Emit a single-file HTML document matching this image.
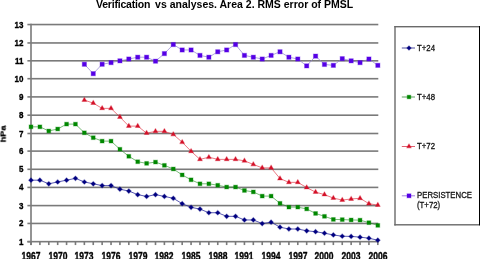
<!DOCTYPE html>
<html><head><meta charset="utf-8"><style>
html,body{margin:0;padding:0;background:#fff;}
.t{will-change:transform;}
body{width:480px;height:259px;overflow:hidden;position:relative;font-family:"Liberation Sans",sans-serif;}
svg{position:absolute;left:0;top:0;}
.bl{position:absolute;left:0;top:0;width:480px;height:259px;}
.title{position:absolute;font-weight:bold;font-size:10.5px;line-height:12px;white-space:nowrap;color:#000;will-change:transform;}
.yl{position:absolute;left:0;width:23.5px;text-align:right;font-weight:bold;font-size:8px;line-height:10px;color:#000;-webkit-text-stroke:0.3px #000;transform:scaleY(1.2);will-change:transform;}
.xl{position:absolute;top:251.3px;width:30px;text-align:center;font-weight:bold;font-size:8.5px;line-height:10px;color:#000;-webkit-text-stroke:0.3px #000;transform:scaleY(1.24);will-change:transform;}
.hpa{position:absolute;left:-7.8px;top:129.3px;width:22px;text-align:center;font-weight:bold;font-size:8.3px;line-height:10px;transform:rotate(-90deg) scale(1.1,0.88);color:#000;-webkit-text-stroke:0.3px #000;}
.lg{position:absolute;left:416.9px;font-size:7.8px;line-height:7.7px;white-space:nowrap;color:#111;-webkit-text-stroke:0.25px #111;transform:scaleY(1.22);transform-origin:0 4px;will-change:transform;}
</style></head><body>
<div class="bl"><svg width="480" height="259" viewBox="0 0 480 259">
<rect x="31.0" y="222.65" width="347.3" height="1.6" fill="#7a7a7a"/>
<rect x="31.0" y="204.80" width="347.3" height="1.6" fill="#7a7a7a"/>
<rect x="31.0" y="186.60" width="347.3" height="1.6" fill="#7a7a7a"/>
<rect x="31.0" y="168.50" width="347.3" height="1.6" fill="#7a7a7a"/>
<rect x="31.0" y="150.30" width="347.3" height="1.6" fill="#7a7a7a"/>
<rect x="31.0" y="132.70" width="347.3" height="1.6" fill="#7a7a7a"/>
<rect x="31.0" y="114.40" width="347.3" height="1.6" fill="#7a7a7a"/>
<rect x="31.0" y="96.10" width="347.3" height="1.6" fill="#7a7a7a"/>
<rect x="31.0" y="77.90" width="347.3" height="1.6" fill="#7a7a7a"/>
<rect x="31.0" y="60.00" width="347.3" height="1.6" fill="#7a7a7a"/>
<rect x="31.0" y="42.15" width="347.3" height="1.6" fill="#7a7a7a"/>
<rect x="31.0" y="23.75" width="347.3" height="1.6" fill="#7a7a7a"/>
<rect x="27.4" y="240.86" width="3.60" height="1.6" fill="#7a7a7a"/>
<rect x="27.4" y="222.65" width="3.60" height="1.6" fill="#7a7a7a"/>
<rect x="27.4" y="204.80" width="3.60" height="1.6" fill="#7a7a7a"/>
<rect x="27.4" y="186.60" width="3.60" height="1.6" fill="#7a7a7a"/>
<rect x="27.4" y="168.50" width="3.60" height="1.6" fill="#7a7a7a"/>
<rect x="27.4" y="150.30" width="3.60" height="1.6" fill="#7a7a7a"/>
<rect x="27.4" y="132.70" width="3.60" height="1.6" fill="#7a7a7a"/>
<rect x="27.4" y="114.40" width="3.60" height="1.6" fill="#7a7a7a"/>
<rect x="27.4" y="96.10" width="3.60" height="1.6" fill="#7a7a7a"/>
<rect x="27.4" y="77.90" width="3.60" height="1.6" fill="#7a7a7a"/>
<rect x="27.4" y="60.00" width="3.60" height="1.6" fill="#7a7a7a"/>
<rect x="27.4" y="42.15" width="3.60" height="1.6" fill="#7a7a7a"/>
<rect x="27.4" y="23.75" width="3.60" height="1.6" fill="#7a7a7a"/>
<rect x="27.4" y="240.86" width="350.9" height="1.6" fill="#7a7a7a"/>
<rect x="30.20" y="241.66" width="1.6" height="3.4" fill="#7a7a7a"/>
<rect x="39.09" y="241.66" width="1.6" height="3.4" fill="#7a7a7a"/>
<rect x="47.99" y="241.66" width="1.6" height="3.4" fill="#7a7a7a"/>
<rect x="56.88" y="241.66" width="1.6" height="3.4" fill="#7a7a7a"/>
<rect x="65.77" y="241.66" width="1.6" height="3.4" fill="#7a7a7a"/>
<rect x="74.67" y="241.66" width="1.6" height="3.4" fill="#7a7a7a"/>
<rect x="83.56" y="241.66" width="1.6" height="3.4" fill="#7a7a7a"/>
<rect x="92.45" y="241.66" width="1.6" height="3.4" fill="#7a7a7a"/>
<rect x="101.34" y="241.66" width="1.6" height="3.4" fill="#7a7a7a"/>
<rect x="110.24" y="241.66" width="1.6" height="3.4" fill="#7a7a7a"/>
<rect x="119.13" y="241.66" width="1.6" height="3.4" fill="#7a7a7a"/>
<rect x="128.02" y="241.66" width="1.6" height="3.4" fill="#7a7a7a"/>
<rect x="136.92" y="241.66" width="1.6" height="3.4" fill="#7a7a7a"/>
<rect x="145.81" y="241.66" width="1.6" height="3.4" fill="#7a7a7a"/>
<rect x="154.70" y="241.66" width="1.6" height="3.4" fill="#7a7a7a"/>
<rect x="163.59" y="241.66" width="1.6" height="3.4" fill="#7a7a7a"/>
<rect x="172.49" y="241.66" width="1.6" height="3.4" fill="#7a7a7a"/>
<rect x="181.38" y="241.66" width="1.6" height="3.4" fill="#7a7a7a"/>
<rect x="190.27" y="241.66" width="1.6" height="3.4" fill="#7a7a7a"/>
<rect x="199.17" y="241.66" width="1.6" height="3.4" fill="#7a7a7a"/>
<rect x="208.06" y="241.66" width="1.6" height="3.4" fill="#7a7a7a"/>
<rect x="216.95" y="241.66" width="1.6" height="3.4" fill="#7a7a7a"/>
<rect x="225.85" y="241.66" width="1.6" height="3.4" fill="#7a7a7a"/>
<rect x="234.74" y="241.66" width="1.6" height="3.4" fill="#7a7a7a"/>
<rect x="243.63" y="241.66" width="1.6" height="3.4" fill="#7a7a7a"/>
<rect x="252.53" y="241.66" width="1.6" height="3.4" fill="#7a7a7a"/>
<rect x="261.42" y="241.66" width="1.6" height="3.4" fill="#7a7a7a"/>
<rect x="270.31" y="241.66" width="1.6" height="3.4" fill="#7a7a7a"/>
<rect x="279.20" y="241.66" width="1.6" height="3.4" fill="#7a7a7a"/>
<rect x="288.10" y="241.66" width="1.6" height="3.4" fill="#7a7a7a"/>
<rect x="296.99" y="241.66" width="1.6" height="3.4" fill="#7a7a7a"/>
<rect x="305.88" y="241.66" width="1.6" height="3.4" fill="#7a7a7a"/>
<rect x="314.78" y="241.66" width="1.6" height="3.4" fill="#7a7a7a"/>
<rect x="323.67" y="241.66" width="1.6" height="3.4" fill="#7a7a7a"/>
<rect x="332.56" y="241.66" width="1.6" height="3.4" fill="#7a7a7a"/>
<rect x="341.45" y="241.66" width="1.6" height="3.4" fill="#7a7a7a"/>
<rect x="350.35" y="241.66" width="1.6" height="3.4" fill="#7a7a7a"/>
<rect x="359.24" y="241.66" width="1.6" height="3.4" fill="#7a7a7a"/>
<rect x="368.13" y="241.66" width="1.6" height="3.4" fill="#7a7a7a"/>
<rect x="377.03" y="241.66" width="1.6" height="3.4" fill="#7a7a7a"/>
<rect x="30.20" y="23.75" width="1.6" height="221.31" fill="#7a7a7a"/>
<polyline points="84.36,64.26 93.25,73.67 102.14,64.26 111.04,62.63 119.93,60.83 128.82,59.02 137.72,57.21 146.61,57.21 155.50,61.19 164.40,53.59 173.29,44.55 182.18,49.98 191.07,49.98 199.97,55.40 208.86,57.21 217.75,51.78 226.65,49.98 235.54,44.55 244.43,55.40 253.33,57.21 262.22,59.02 271.11,55.40 280.00,51.78 288.90,57.21 297.79,59.02 306.68,65.89 315.58,56.12 324.47,64.44 333.36,65.35 342.25,58.66 351.15,60.83 360.04,62.63 368.93,59.02 377.83,65.35" fill="none" stroke="#9080d0" stroke-width="1" stroke-opacity="0.7" stroke-linejoin="round"/>
<polyline points="84.36,100.07 93.25,103.14 102.14,108.39 111.04,108.39 119.93,117.07 128.82,126.11 137.72,126.11 146.61,133.16 155.50,131.35 164.40,131.35 173.29,134.43 182.18,142.20 191.07,151.24 199.97,159.38 208.86,157.21 217.75,159.38 226.65,159.38 235.54,159.38 244.43,160.83 253.33,164.44 262.22,167.88 271.11,167.88 280.00,178.55 288.90,182.35 297.79,182.35 306.68,187.59 315.58,192.11 324.47,194.64 333.36,198.08 342.25,200.07 351.15,198.98 360.04,198.26 368.93,203.68 377.83,205.13" fill="none" stroke="#e02030" stroke-width="1" stroke-opacity="0.6" stroke-linejoin="round"/>
<polyline points="31.00,126.83 39.89,126.83 48.79,130.99 57.68,129.00 66.57,124.12 75.47,124.12 84.36,132.80 93.25,137.68 102.14,141.12 111.04,141.12 119.93,149.25 128.82,156.31 137.72,161.73 146.61,163.36 155.50,162.09 164.40,165.35 173.29,168.96 182.18,174.93 191.07,179.81 199.97,183.79 208.86,183.79 217.75,185.24 226.65,187.05 235.54,187.05 244.43,190.48 253.33,191.93 262.22,196.09 271.11,196.09 280.00,203.32 288.90,207.12 297.79,207.12 306.68,208.93 315.58,213.45 324.47,216.34 333.36,219.42 342.25,219.60 351.15,219.96 360.04,220.14 368.93,222.67 377.83,225.38" fill="none" stroke="#209020" stroke-width="1" stroke-opacity="0.6" stroke-linejoin="round"/>
<polyline points="31.00,180.18 39.89,180.18 48.79,183.79 57.68,181.98 66.57,180.18 75.47,178.37 84.36,181.98 93.25,183.79 102.14,185.60 111.04,185.60 119.93,189.22 128.82,191.03 137.72,194.64 146.61,196.45 155.50,194.64 164.40,196.45 173.29,198.26 182.18,203.68 191.07,207.30 199.97,209.11 208.86,212.73 217.75,212.73 226.65,216.34 235.54,216.34 244.43,219.96 253.33,219.96 262.22,223.58 271.11,222.13 280.00,227.19 288.90,229.00 297.79,229.00 306.68,230.81 315.58,231.71 324.47,233.16 333.36,234.97 342.25,236.23 351.15,236.42 360.04,237.14 368.93,238.22 377.83,240.21" fill="none" stroke="#3030a0" stroke-width="1" stroke-opacity="0.8" stroke-linejoin="round"/>
<rect x="82.26" y="62.16" width="4.2" height="4.2" fill="#5500e6" stroke="#5500e6" stroke-opacity="0.3" stroke-width="1.1"/>
<rect x="91.15" y="71.57" width="4.2" height="4.2" fill="#5500e6" stroke="#5500e6" stroke-opacity="0.3" stroke-width="1.1"/>
<rect x="100.04" y="62.16" width="4.2" height="4.2" fill="#5500e6" stroke="#5500e6" stroke-opacity="0.3" stroke-width="1.1"/>
<rect x="108.94" y="60.53" width="4.2" height="4.2" fill="#5500e6" stroke="#5500e6" stroke-opacity="0.3" stroke-width="1.1"/>
<rect x="117.83" y="58.73" width="4.2" height="4.2" fill="#5500e6" stroke="#5500e6" stroke-opacity="0.3" stroke-width="1.1"/>
<rect x="126.72" y="56.92" width="4.2" height="4.2" fill="#5500e6" stroke="#5500e6" stroke-opacity="0.3" stroke-width="1.1"/>
<rect x="135.62" y="55.11" width="4.2" height="4.2" fill="#5500e6" stroke="#5500e6" stroke-opacity="0.3" stroke-width="1.1"/>
<rect x="144.51" y="55.11" width="4.2" height="4.2" fill="#5500e6" stroke="#5500e6" stroke-opacity="0.3" stroke-width="1.1"/>
<rect x="153.40" y="59.09" width="4.2" height="4.2" fill="#5500e6" stroke="#5500e6" stroke-opacity="0.3" stroke-width="1.1"/>
<rect x="162.30" y="51.49" width="4.2" height="4.2" fill="#5500e6" stroke="#5500e6" stroke-opacity="0.3" stroke-width="1.1"/>
<rect x="171.19" y="42.45" width="4.2" height="4.2" fill="#5500e6" stroke="#5500e6" stroke-opacity="0.3" stroke-width="1.1"/>
<rect x="180.08" y="47.88" width="4.2" height="4.2" fill="#5500e6" stroke="#5500e6" stroke-opacity="0.3" stroke-width="1.1"/>
<rect x="188.97" y="47.88" width="4.2" height="4.2" fill="#5500e6" stroke="#5500e6" stroke-opacity="0.3" stroke-width="1.1"/>
<rect x="197.87" y="53.30" width="4.2" height="4.2" fill="#5500e6" stroke="#5500e6" stroke-opacity="0.3" stroke-width="1.1"/>
<rect x="206.76" y="55.11" width="4.2" height="4.2" fill="#5500e6" stroke="#5500e6" stroke-opacity="0.3" stroke-width="1.1"/>
<rect x="215.65" y="49.68" width="4.2" height="4.2" fill="#5500e6" stroke="#5500e6" stroke-opacity="0.3" stroke-width="1.1"/>
<rect x="224.55" y="47.88" width="4.2" height="4.2" fill="#5500e6" stroke="#5500e6" stroke-opacity="0.3" stroke-width="1.1"/>
<rect x="233.44" y="42.45" width="4.2" height="4.2" fill="#5500e6" stroke="#5500e6" stroke-opacity="0.3" stroke-width="1.1"/>
<rect x="242.33" y="53.30" width="4.2" height="4.2" fill="#5500e6" stroke="#5500e6" stroke-opacity="0.3" stroke-width="1.1"/>
<rect x="251.23" y="55.11" width="4.2" height="4.2" fill="#5500e6" stroke="#5500e6" stroke-opacity="0.3" stroke-width="1.1"/>
<rect x="260.12" y="56.92" width="4.2" height="4.2" fill="#5500e6" stroke="#5500e6" stroke-opacity="0.3" stroke-width="1.1"/>
<rect x="269.01" y="53.30" width="4.2" height="4.2" fill="#5500e6" stroke="#5500e6" stroke-opacity="0.3" stroke-width="1.1"/>
<rect x="277.90" y="49.68" width="4.2" height="4.2" fill="#5500e6" stroke="#5500e6" stroke-opacity="0.3" stroke-width="1.1"/>
<rect x="286.80" y="55.11" width="4.2" height="4.2" fill="#5500e6" stroke="#5500e6" stroke-opacity="0.3" stroke-width="1.1"/>
<rect x="295.69" y="56.92" width="4.2" height="4.2" fill="#5500e6" stroke="#5500e6" stroke-opacity="0.3" stroke-width="1.1"/>
<rect x="304.58" y="63.79" width="4.2" height="4.2" fill="#5500e6" stroke="#5500e6" stroke-opacity="0.3" stroke-width="1.1"/>
<rect x="313.48" y="54.02" width="4.2" height="4.2" fill="#5500e6" stroke="#5500e6" stroke-opacity="0.3" stroke-width="1.1"/>
<rect x="322.37" y="62.34" width="4.2" height="4.2" fill="#5500e6" stroke="#5500e6" stroke-opacity="0.3" stroke-width="1.1"/>
<rect x="331.26" y="63.25" width="4.2" height="4.2" fill="#5500e6" stroke="#5500e6" stroke-opacity="0.3" stroke-width="1.1"/>
<rect x="340.15" y="56.56" width="4.2" height="4.2" fill="#5500e6" stroke="#5500e6" stroke-opacity="0.3" stroke-width="1.1"/>
<rect x="349.05" y="58.73" width="4.2" height="4.2" fill="#5500e6" stroke="#5500e6" stroke-opacity="0.3" stroke-width="1.1"/>
<rect x="357.94" y="60.53" width="4.2" height="4.2" fill="#5500e6" stroke="#5500e6" stroke-opacity="0.3" stroke-width="1.1"/>
<rect x="366.83" y="56.92" width="4.2" height="4.2" fill="#5500e6" stroke="#5500e6" stroke-opacity="0.3" stroke-width="1.1"/>
<rect x="375.73" y="63.25" width="4.2" height="4.2" fill="#5500e6" stroke="#5500e6" stroke-opacity="0.3" stroke-width="1.1"/>
<polygon points="84.36,97.27 86.76,101.47 81.96,101.47" fill="#d41028" stroke="#d41028" stroke-opacity="0.3" stroke-width="1.1" stroke-linejoin="round"/>
<polygon points="93.25,100.34 95.65,104.54 90.85,104.54" fill="#d41028" stroke="#d41028" stroke-opacity="0.3" stroke-width="1.1" stroke-linejoin="round"/>
<polygon points="102.14,105.59 104.54,109.79 99.74,109.79" fill="#d41028" stroke="#d41028" stroke-opacity="0.3" stroke-width="1.1" stroke-linejoin="round"/>
<polygon points="111.04,105.59 113.44,109.79 108.64,109.79" fill="#d41028" stroke="#d41028" stroke-opacity="0.3" stroke-width="1.1" stroke-linejoin="round"/>
<polygon points="119.93,114.27 122.33,118.47 117.53,118.47" fill="#d41028" stroke="#d41028" stroke-opacity="0.3" stroke-width="1.1" stroke-linejoin="round"/>
<polygon points="128.82,123.31 131.22,127.51 126.42,127.51" fill="#d41028" stroke="#d41028" stroke-opacity="0.3" stroke-width="1.1" stroke-linejoin="round"/>
<polygon points="137.72,123.31 140.12,127.51 135.32,127.51" fill="#d41028" stroke="#d41028" stroke-opacity="0.3" stroke-width="1.1" stroke-linejoin="round"/>
<polygon points="146.61,130.36 149.01,134.56 144.21,134.56" fill="#d41028" stroke="#d41028" stroke-opacity="0.3" stroke-width="1.1" stroke-linejoin="round"/>
<polygon points="155.50,128.55 157.90,132.75 153.10,132.75" fill="#d41028" stroke="#d41028" stroke-opacity="0.3" stroke-width="1.1" stroke-linejoin="round"/>
<polygon points="164.40,128.55 166.80,132.75 162.00,132.75" fill="#d41028" stroke="#d41028" stroke-opacity="0.3" stroke-width="1.1" stroke-linejoin="round"/>
<polygon points="173.29,131.63 175.69,135.83 170.89,135.83" fill="#d41028" stroke="#d41028" stroke-opacity="0.3" stroke-width="1.1" stroke-linejoin="round"/>
<polygon points="182.18,139.40 184.58,143.60 179.78,143.60" fill="#d41028" stroke="#d41028" stroke-opacity="0.3" stroke-width="1.1" stroke-linejoin="round"/>
<polygon points="191.07,148.44 193.47,152.64 188.67,152.64" fill="#d41028" stroke="#d41028" stroke-opacity="0.3" stroke-width="1.1" stroke-linejoin="round"/>
<polygon points="199.97,156.58 202.37,160.78 197.57,160.78" fill="#d41028" stroke="#d41028" stroke-opacity="0.3" stroke-width="1.1" stroke-linejoin="round"/>
<polygon points="208.86,154.41 211.26,158.61 206.46,158.61" fill="#d41028" stroke="#d41028" stroke-opacity="0.3" stroke-width="1.1" stroke-linejoin="round"/>
<polygon points="217.75,156.58 220.15,160.78 215.35,160.78" fill="#d41028" stroke="#d41028" stroke-opacity="0.3" stroke-width="1.1" stroke-linejoin="round"/>
<polygon points="226.65,156.58 229.05,160.78 224.25,160.78" fill="#d41028" stroke="#d41028" stroke-opacity="0.3" stroke-width="1.1" stroke-linejoin="round"/>
<polygon points="235.54,156.58 237.94,160.78 233.14,160.78" fill="#d41028" stroke="#d41028" stroke-opacity="0.3" stroke-width="1.1" stroke-linejoin="round"/>
<polygon points="244.43,158.03 246.83,162.23 242.03,162.23" fill="#d41028" stroke="#d41028" stroke-opacity="0.3" stroke-width="1.1" stroke-linejoin="round"/>
<polygon points="253.33,161.64 255.73,165.84 250.93,165.84" fill="#d41028" stroke="#d41028" stroke-opacity="0.3" stroke-width="1.1" stroke-linejoin="round"/>
<polygon points="262.22,165.08 264.62,169.28 259.82,169.28" fill="#d41028" stroke="#d41028" stroke-opacity="0.3" stroke-width="1.1" stroke-linejoin="round"/>
<polygon points="271.11,165.08 273.51,169.28 268.71,169.28" fill="#d41028" stroke="#d41028" stroke-opacity="0.3" stroke-width="1.1" stroke-linejoin="round"/>
<polygon points="280.00,175.75 282.40,179.95 277.60,179.95" fill="#d41028" stroke="#d41028" stroke-opacity="0.3" stroke-width="1.1" stroke-linejoin="round"/>
<polygon points="288.90,179.55 291.30,183.75 286.50,183.75" fill="#d41028" stroke="#d41028" stroke-opacity="0.3" stroke-width="1.1" stroke-linejoin="round"/>
<polygon points="297.79,179.55 300.19,183.75 295.39,183.75" fill="#d41028" stroke="#d41028" stroke-opacity="0.3" stroke-width="1.1" stroke-linejoin="round"/>
<polygon points="306.68,184.79 309.08,188.99 304.28,188.99" fill="#d41028" stroke="#d41028" stroke-opacity="0.3" stroke-width="1.1" stroke-linejoin="round"/>
<polygon points="315.58,189.31 317.98,193.51 313.18,193.51" fill="#d41028" stroke="#d41028" stroke-opacity="0.3" stroke-width="1.1" stroke-linejoin="round"/>
<polygon points="324.47,191.84 326.87,196.04 322.07,196.04" fill="#d41028" stroke="#d41028" stroke-opacity="0.3" stroke-width="1.1" stroke-linejoin="round"/>
<polygon points="333.36,195.28 335.76,199.48 330.96,199.48" fill="#d41028" stroke="#d41028" stroke-opacity="0.3" stroke-width="1.1" stroke-linejoin="round"/>
<polygon points="342.25,197.27 344.66,201.47 339.85,201.47" fill="#d41028" stroke="#d41028" stroke-opacity="0.3" stroke-width="1.1" stroke-linejoin="round"/>
<polygon points="351.15,196.18 353.55,200.38 348.75,200.38" fill="#d41028" stroke="#d41028" stroke-opacity="0.3" stroke-width="1.1" stroke-linejoin="round"/>
<polygon points="360.04,195.46 362.44,199.66 357.64,199.66" fill="#d41028" stroke="#d41028" stroke-opacity="0.3" stroke-width="1.1" stroke-linejoin="round"/>
<polygon points="368.93,200.88 371.33,205.08 366.53,205.08" fill="#d41028" stroke="#d41028" stroke-opacity="0.3" stroke-width="1.1" stroke-linejoin="round"/>
<polygon points="377.83,202.33 380.23,206.53 375.43,206.53" fill="#d41028" stroke="#d41028" stroke-opacity="0.3" stroke-width="1.1" stroke-linejoin="round"/>
<rect x="29.10" y="124.93" width="3.8" height="3.8" fill="#008800" stroke="#008800" stroke-opacity="0.3" stroke-width="1.1"/>
<rect x="37.99" y="124.93" width="3.8" height="3.8" fill="#008800" stroke="#008800" stroke-opacity="0.3" stroke-width="1.1"/>
<rect x="46.89" y="129.09" width="3.8" height="3.8" fill="#008800" stroke="#008800" stroke-opacity="0.3" stroke-width="1.1"/>
<rect x="55.78" y="127.10" width="3.8" height="3.8" fill="#008800" stroke="#008800" stroke-opacity="0.3" stroke-width="1.1"/>
<rect x="64.67" y="122.22" width="3.8" height="3.8" fill="#008800" stroke="#008800" stroke-opacity="0.3" stroke-width="1.1"/>
<rect x="73.56" y="122.22" width="3.8" height="3.8" fill="#008800" stroke="#008800" stroke-opacity="0.3" stroke-width="1.1"/>
<rect x="82.46" y="130.90" width="3.8" height="3.8" fill="#008800" stroke="#008800" stroke-opacity="0.3" stroke-width="1.1"/>
<rect x="91.35" y="135.78" width="3.8" height="3.8" fill="#008800" stroke="#008800" stroke-opacity="0.3" stroke-width="1.1"/>
<rect x="100.24" y="139.22" width="3.8" height="3.8" fill="#008800" stroke="#008800" stroke-opacity="0.3" stroke-width="1.1"/>
<rect x="109.14" y="139.22" width="3.8" height="3.8" fill="#008800" stroke="#008800" stroke-opacity="0.3" stroke-width="1.1"/>
<rect x="118.03" y="147.35" width="3.8" height="3.8" fill="#008800" stroke="#008800" stroke-opacity="0.3" stroke-width="1.1"/>
<rect x="126.92" y="154.41" width="3.8" height="3.8" fill="#008800" stroke="#008800" stroke-opacity="0.3" stroke-width="1.1"/>
<rect x="135.82" y="159.83" width="3.8" height="3.8" fill="#008800" stroke="#008800" stroke-opacity="0.3" stroke-width="1.1"/>
<rect x="144.71" y="161.46" width="3.8" height="3.8" fill="#008800" stroke="#008800" stroke-opacity="0.3" stroke-width="1.1"/>
<rect x="153.60" y="160.19" width="3.8" height="3.8" fill="#008800" stroke="#008800" stroke-opacity="0.3" stroke-width="1.1"/>
<rect x="162.50" y="163.45" width="3.8" height="3.8" fill="#008800" stroke="#008800" stroke-opacity="0.3" stroke-width="1.1"/>
<rect x="171.39" y="167.06" width="3.8" height="3.8" fill="#008800" stroke="#008800" stroke-opacity="0.3" stroke-width="1.1"/>
<rect x="180.28" y="173.03" width="3.8" height="3.8" fill="#008800" stroke="#008800" stroke-opacity="0.3" stroke-width="1.1"/>
<rect x="189.17" y="177.91" width="3.8" height="3.8" fill="#008800" stroke="#008800" stroke-opacity="0.3" stroke-width="1.1"/>
<rect x="198.07" y="181.89" width="3.8" height="3.8" fill="#008800" stroke="#008800" stroke-opacity="0.3" stroke-width="1.1"/>
<rect x="206.96" y="181.89" width="3.8" height="3.8" fill="#008800" stroke="#008800" stroke-opacity="0.3" stroke-width="1.1"/>
<rect x="215.85" y="183.34" width="3.8" height="3.8" fill="#008800" stroke="#008800" stroke-opacity="0.3" stroke-width="1.1"/>
<rect x="224.75" y="185.15" width="3.8" height="3.8" fill="#008800" stroke="#008800" stroke-opacity="0.3" stroke-width="1.1"/>
<rect x="233.64" y="185.15" width="3.8" height="3.8" fill="#008800" stroke="#008800" stroke-opacity="0.3" stroke-width="1.1"/>
<rect x="242.53" y="188.58" width="3.8" height="3.8" fill="#008800" stroke="#008800" stroke-opacity="0.3" stroke-width="1.1"/>
<rect x="251.43" y="190.03" width="3.8" height="3.8" fill="#008800" stroke="#008800" stroke-opacity="0.3" stroke-width="1.1"/>
<rect x="260.32" y="194.19" width="3.8" height="3.8" fill="#008800" stroke="#008800" stroke-opacity="0.3" stroke-width="1.1"/>
<rect x="269.21" y="194.19" width="3.8" height="3.8" fill="#008800" stroke="#008800" stroke-opacity="0.3" stroke-width="1.1"/>
<rect x="278.10" y="201.42" width="3.8" height="3.8" fill="#008800" stroke="#008800" stroke-opacity="0.3" stroke-width="1.1"/>
<rect x="287.00" y="205.22" width="3.8" height="3.8" fill="#008800" stroke="#008800" stroke-opacity="0.3" stroke-width="1.1"/>
<rect x="295.89" y="205.22" width="3.8" height="3.8" fill="#008800" stroke="#008800" stroke-opacity="0.3" stroke-width="1.1"/>
<rect x="304.78" y="207.03" width="3.8" height="3.8" fill="#008800" stroke="#008800" stroke-opacity="0.3" stroke-width="1.1"/>
<rect x="313.68" y="211.55" width="3.8" height="3.8" fill="#008800" stroke="#008800" stroke-opacity="0.3" stroke-width="1.1"/>
<rect x="322.57" y="214.44" width="3.8" height="3.8" fill="#008800" stroke="#008800" stroke-opacity="0.3" stroke-width="1.1"/>
<rect x="331.46" y="217.52" width="3.8" height="3.8" fill="#008800" stroke="#008800" stroke-opacity="0.3" stroke-width="1.1"/>
<rect x="340.36" y="217.70" width="3.8" height="3.8" fill="#008800" stroke="#008800" stroke-opacity="0.3" stroke-width="1.1"/>
<rect x="349.25" y="218.06" width="3.8" height="3.8" fill="#008800" stroke="#008800" stroke-opacity="0.3" stroke-width="1.1"/>
<rect x="358.14" y="218.24" width="3.8" height="3.8" fill="#008800" stroke="#008800" stroke-opacity="0.3" stroke-width="1.1"/>
<rect x="367.03" y="220.77" width="3.8" height="3.8" fill="#008800" stroke="#008800" stroke-opacity="0.3" stroke-width="1.1"/>
<rect x="375.93" y="223.48" width="3.8" height="3.8" fill="#008800" stroke="#008800" stroke-opacity="0.3" stroke-width="1.1"/>
<polygon points="31.00,177.83 33.35,180.18 31.00,182.53 28.65,180.18" fill="#000080" stroke="#000080" stroke-opacity="0.3" stroke-width="1.1"/>
<polygon points="39.89,177.83 42.24,180.18 39.89,182.53 37.54,180.18" fill="#000080" stroke="#000080" stroke-opacity="0.3" stroke-width="1.1"/>
<polygon points="48.79,181.44 51.14,183.79 48.79,186.14 46.44,183.79" fill="#000080" stroke="#000080" stroke-opacity="0.3" stroke-width="1.1"/>
<polygon points="57.68,179.63 60.03,181.98 57.68,184.33 55.33,181.98" fill="#000080" stroke="#000080" stroke-opacity="0.3" stroke-width="1.1"/>
<polygon points="66.57,177.83 68.92,180.18 66.57,182.53 64.22,180.18" fill="#000080" stroke="#000080" stroke-opacity="0.3" stroke-width="1.1"/>
<polygon points="75.47,176.02 77.81,178.37 75.47,180.72 73.12,178.37" fill="#000080" stroke="#000080" stroke-opacity="0.3" stroke-width="1.1"/>
<polygon points="84.36,179.63 86.71,181.98 84.36,184.33 82.01,181.98" fill="#000080" stroke="#000080" stroke-opacity="0.3" stroke-width="1.1"/>
<polygon points="93.25,181.44 95.60,183.79 93.25,186.14 90.90,183.79" fill="#000080" stroke="#000080" stroke-opacity="0.3" stroke-width="1.1"/>
<polygon points="102.14,183.25 104.49,185.60 102.14,187.95 99.79,185.60" fill="#000080" stroke="#000080" stroke-opacity="0.3" stroke-width="1.1"/>
<polygon points="111.04,183.25 113.39,185.60 111.04,187.95 108.69,185.60" fill="#000080" stroke="#000080" stroke-opacity="0.3" stroke-width="1.1"/>
<polygon points="119.93,186.87 122.28,189.22 119.93,191.57 117.58,189.22" fill="#000080" stroke="#000080" stroke-opacity="0.3" stroke-width="1.1"/>
<polygon points="128.82,188.68 131.17,191.03 128.82,193.38 126.47,191.03" fill="#000080" stroke="#000080" stroke-opacity="0.3" stroke-width="1.1"/>
<polygon points="137.72,192.29 140.07,194.64 137.72,196.99 135.37,194.64" fill="#000080" stroke="#000080" stroke-opacity="0.3" stroke-width="1.1"/>
<polygon points="146.61,194.10 148.96,196.45 146.61,198.80 144.26,196.45" fill="#000080" stroke="#000080" stroke-opacity="0.3" stroke-width="1.1"/>
<polygon points="155.50,192.29 157.85,194.64 155.50,196.99 153.15,194.64" fill="#000080" stroke="#000080" stroke-opacity="0.3" stroke-width="1.1"/>
<polygon points="164.40,194.10 166.75,196.45 164.40,198.80 162.05,196.45" fill="#000080" stroke="#000080" stroke-opacity="0.3" stroke-width="1.1"/>
<polygon points="173.29,195.91 175.64,198.26 173.29,200.61 170.94,198.26" fill="#000080" stroke="#000080" stroke-opacity="0.3" stroke-width="1.1"/>
<polygon points="182.18,201.33 184.53,203.68 182.18,206.03 179.83,203.68" fill="#000080" stroke="#000080" stroke-opacity="0.3" stroke-width="1.1"/>
<polygon points="191.07,204.95 193.42,207.30 191.07,209.65 188.72,207.30" fill="#000080" stroke="#000080" stroke-opacity="0.3" stroke-width="1.1"/>
<polygon points="199.97,206.76 202.32,209.11 199.97,211.46 197.62,209.11" fill="#000080" stroke="#000080" stroke-opacity="0.3" stroke-width="1.1"/>
<polygon points="208.86,210.38 211.21,212.73 208.86,215.08 206.51,212.73" fill="#000080" stroke="#000080" stroke-opacity="0.3" stroke-width="1.1"/>
<polygon points="217.75,210.38 220.10,212.73 217.75,215.08 215.40,212.73" fill="#000080" stroke="#000080" stroke-opacity="0.3" stroke-width="1.1"/>
<polygon points="226.65,213.99 229.00,216.34 226.65,218.69 224.30,216.34" fill="#000080" stroke="#000080" stroke-opacity="0.3" stroke-width="1.1"/>
<polygon points="235.54,213.99 237.89,216.34 235.54,218.69 233.19,216.34" fill="#000080" stroke="#000080" stroke-opacity="0.3" stroke-width="1.1"/>
<polygon points="244.43,217.61 246.78,219.96 244.43,222.31 242.08,219.96" fill="#000080" stroke="#000080" stroke-opacity="0.3" stroke-width="1.1"/>
<polygon points="253.33,217.61 255.68,219.96 253.33,222.31 250.98,219.96" fill="#000080" stroke="#000080" stroke-opacity="0.3" stroke-width="1.1"/>
<polygon points="262.22,221.23 264.57,223.58 262.22,225.93 259.87,223.58" fill="#000080" stroke="#000080" stroke-opacity="0.3" stroke-width="1.1"/>
<polygon points="271.11,219.78 273.46,222.13 271.11,224.48 268.76,222.13" fill="#000080" stroke="#000080" stroke-opacity="0.3" stroke-width="1.1"/>
<polygon points="280.00,224.84 282.35,227.19 280.00,229.54 277.65,227.19" fill="#000080" stroke="#000080" stroke-opacity="0.3" stroke-width="1.1"/>
<polygon points="288.90,226.65 291.25,229.00 288.90,231.35 286.55,229.00" fill="#000080" stroke="#000080" stroke-opacity="0.3" stroke-width="1.1"/>
<polygon points="297.79,226.65 300.14,229.00 297.79,231.35 295.44,229.00" fill="#000080" stroke="#000080" stroke-opacity="0.3" stroke-width="1.1"/>
<polygon points="306.68,228.46 309.03,230.81 306.68,233.16 304.33,230.81" fill="#000080" stroke="#000080" stroke-opacity="0.3" stroke-width="1.1"/>
<polygon points="315.58,229.36 317.93,231.71 315.58,234.06 313.23,231.71" fill="#000080" stroke="#000080" stroke-opacity="0.3" stroke-width="1.1"/>
<polygon points="324.47,230.81 326.82,233.16 324.47,235.51 322.12,233.16" fill="#000080" stroke="#000080" stroke-opacity="0.3" stroke-width="1.1"/>
<polygon points="333.36,232.62 335.71,234.97 333.36,237.32 331.01,234.97" fill="#000080" stroke="#000080" stroke-opacity="0.3" stroke-width="1.1"/>
<polygon points="342.25,233.88 344.61,236.23 342.25,238.58 339.90,236.23" fill="#000080" stroke="#000080" stroke-opacity="0.3" stroke-width="1.1"/>
<polygon points="351.15,234.07 353.50,236.42 351.15,238.77 348.80,236.42" fill="#000080" stroke="#000080" stroke-opacity="0.3" stroke-width="1.1"/>
<polygon points="360.04,234.79 362.39,237.14 360.04,239.49 357.69,237.14" fill="#000080" stroke="#000080" stroke-opacity="0.3" stroke-width="1.1"/>
<polygon points="368.93,235.87 371.28,238.22 368.93,240.57 366.58,238.22" fill="#000080" stroke="#000080" stroke-opacity="0.3" stroke-width="1.1"/>
<polygon points="377.83,237.86 380.18,240.21 377.83,242.56 375.48,240.21" fill="#000080" stroke="#000080" stroke-opacity="0.3" stroke-width="1.1"/>
<rect x="394.3" y="26.0" width="85" height="1.4" fill="#6a6a6a"/>
<rect x="394.3" y="224.1" width="85" height="1.4" fill="#6a6a6a"/>
<rect x="394.3" y="26.0" width="1.4" height="199.5" fill="#6a6a6a"/>
<rect x="479" y="26.0" width="1" height="199.5" fill="#000"/>
<rect x="401.8" y="47.50" width="13.2" height="1" fill="#5050a0"/>
<polygon points="409.00,45.80 411.20,48.00 409.00,50.20 406.80,48.00" fill="#000080" stroke="#000080" stroke-opacity="0.3" stroke-width="1.1"/>
<rect x="401.8" y="96.50" width="13.2" height="1" fill="#60a060"/>
<rect x="407.20" y="95.20" width="3.6" height="3.6" fill="#008800" stroke="#008800" stroke-opacity="0.3" stroke-width="1.1"/>
<rect x="401.8" y="146.00" width="13.2" height="1" fill="#e06070"/>
<polygon points="409.00,143.83 411.30,147.83 406.70,147.83" fill="#d41028" stroke="#d41028" stroke-opacity="0.3" stroke-width="1.1" stroke-linejoin="round"/>
<rect x="401.8" y="195.30" width="13.2" height="1" fill="#a080e0"/>
<rect x="407.00" y="193.80" width="4.0" height="4.0" fill="#5500e6" stroke="#5500e6" stroke-opacity="0.3" stroke-width="1.1"/>
</svg></div>
<div class="title" style="left:95.6px;top:-1.6px"><span style="letter-spacing:-0.2px;margin-right:2.0px">Verification</span> vs analyses. Area 2. RMS error of PMSL</div>
<div class="yl" style="top:237.66px">1</div>
<div class="yl" style="top:219.45px">2</div>
<div class="yl" style="top:201.60px">3</div>
<div class="yl" style="top:183.40px">4</div>
<div class="yl" style="top:165.30px">5</div>
<div class="yl" style="top:147.10px">6</div>
<div class="yl" style="top:129.50px">7</div>
<div class="yl" style="top:111.20px">8</div>
<div class="yl" style="top:92.90px">9</div>
<div class="yl" style="top:74.70px">10</div>
<div class="yl" style="top:56.80px">11</div>
<div class="yl" style="top:38.95px">12</div>
<div class="yl" style="top:20.55px">13</div>
<div class="xl" style="left:16.00px">1967</div>
<div class="xl" style="left:42.68px">1970</div>
<div class="xl" style="left:69.36px">1973</div>
<div class="xl" style="left:96.04px">1976</div>
<div class="xl" style="left:122.72px">1979</div>
<div class="xl" style="left:149.40px">1982</div>
<div class="xl" style="left:176.07px">1985</div>
<div class="xl" style="left:202.75px">1988</div>
<div class="xl" style="left:229.43px">1991</div>
<div class="xl" style="left:256.11px">1994</div>
<div class="xl" style="left:282.79px">1997</div>
<div class="xl" style="left:309.47px">2000</div>
<div class="xl" style="left:336.15px">2003</div>
<div class="xl" style="left:362.83px">2006</div>
<div class="hpa">hPa</div>
<div class="lg" style="top:44.80px">T+24</div>
<div class="lg" style="top:93.80px">T+48</div>
<div class="lg" style="top:143.30px">T+72</div>
<div class="lg" style="top:192.30px">PERSISTENCE<br>(T+72)</div>
</body></html>
